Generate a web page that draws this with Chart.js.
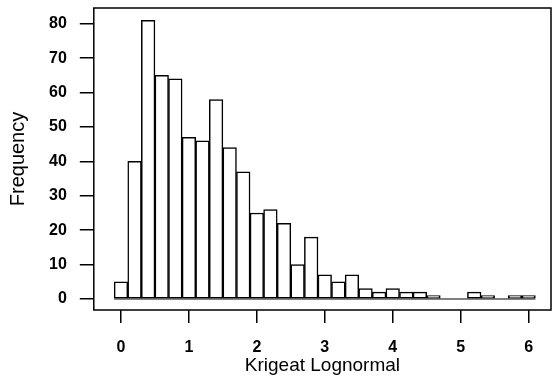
<!DOCTYPE html>
<html>
<head>
<meta charset="utf-8">
<script src="https://cdn.jsdelivr.net/npm/chart.js@4"></script>
<style>
  html, body { margin: 0; padding: 0; background: #fff; }
  #wrap { width: 554px; height: 379px; position: relative; }
</style>
</head>
<body>
<div id="wrap"><canvas id="myChart"></canvas></div>
<script>
// bin centres (width 0.2) and counts
const binCentres = [0, 0.2, 0.4, 0.6, 0.8, 1.0, 1.2, 1.4, 1.6, 1.8, 2.0, 2.2, 2.4, 2.6, 2.8,
  3.0, 3.2, 3.4, 3.6, 3.8, 4.0, 4.2, 4.4, 4.6, 4.8, 5.0, 5.2, 5.4, 5.6, 5.8, 6.0];
const counts = [5, 40, 81, 65, 64, 47, 46, 58, 44, 37, 25, 26, 22, 10, 18,
  7, 5, 7, 3, 2, 3, 2, 2, 1, 0, 0, 2, 1, 0, 1, 1];
const baselineX = [-0.1, 6.1];
const xTitle = 'Krigeat Lognormal';
const yTitle = 'Frequency';

const font = "'Liberation Sans', Arial, sans-serif";

const bars = binCentres.map((x, i) => ({ x: x, y: counts[i] }));
const baseline = baselineX.map((x) => ({ x: x, y: 0 }));

// full box around the plot area
const frame = {
  id: 'frame',
  afterDraw(chart) {
    const a = chart.chartArea;
    const ctx = chart.ctx;
    ctx.save();
    ctx.beginPath();
    ctx.strokeStyle = '#000';
    ctx.lineWidth = 1.5;
    ctx.moveTo(a.left, a.top);
    ctx.lineTo(a.right, a.top);
    ctx.lineTo(a.right, a.bottom);
    ctx.lineTo(a.left, a.bottom);
    ctx.closePath();
    ctx.stroke();
    ctx.restore();
  },
};

const ctx = document.getElementById('myChart').getContext('2d');
const myChart = new Chart(ctx, {
  type: 'bar',
  data: {
    datasets: [{
      type: 'line',
      data: baseline,
      borderColor: '#000',
      borderWidth: 1,
      pointRadius: 0,
      order: 2,
    }, {
      data: bars,
      backgroundColor: '#fff',
      borderColor: '#000',
      borderWidth: 1.5,
      borderSkipped: false,
      categoryPercentage: 1,
      barPercentage: 1,
      order: 1,
    }],
  },
  options: {
    responsive: true,
    maintainAspectRatio: false,
    animation: false,
    layout: { padding: { left: 4, right: 3, top: 8, bottom: 2 } },
    plugins: {
      legend: { display: false },
      tooltip: { enabled: false },
    },
    scales: {
      x: {
        type: 'linear',
        min: -0.4,
        max: 6.33,
        offset: false,
        grid: { drawOnChartArea: false, offset: false, color: '#000', lineWidth: 1.5, tickLength: 13 },
        border: { display: false },
        ticks: {
          stepSize: 1,
          includeBounds: false,
          color: '#000',
          padding: 15,
          maxRotation: 0,
          font: { family: font, size: 16, weight: 'bold' },
        },
        title: {
          display: true,
          text: xTitle,
          color: '#000',
          padding: { top: -18, bottom: 0 },
          font: { family: font, size: 19 },
        },
      },
      y: {
        min: -3.2,
        max: 84.6,
        // ticks 0..80 sit well inside the range, so no extra room for half labels
        afterFit(scale) {
          scale.paddingTop = 0;
          scale.paddingBottom = 0;
        },
        grid: { drawOnChartArea: false, color: '#000', lineWidth: 1.5, tickLength: 14 },
        border: { display: false },
        ticks: {
          stepSize: 10,
          includeBounds: false,
          color: '#000',
          padding: 13,
          font: { family: font, size: 16, weight: 'bold' },
        },
        title: {
          display: true,
          text: yTitle,
          color: '#000',
          padding: { top: 2, bottom: 6 },
          font: { family: font, size: 20 },
        },
      },
    },
  },
  plugins: [frame],
});
</script>
</body>
</html>
